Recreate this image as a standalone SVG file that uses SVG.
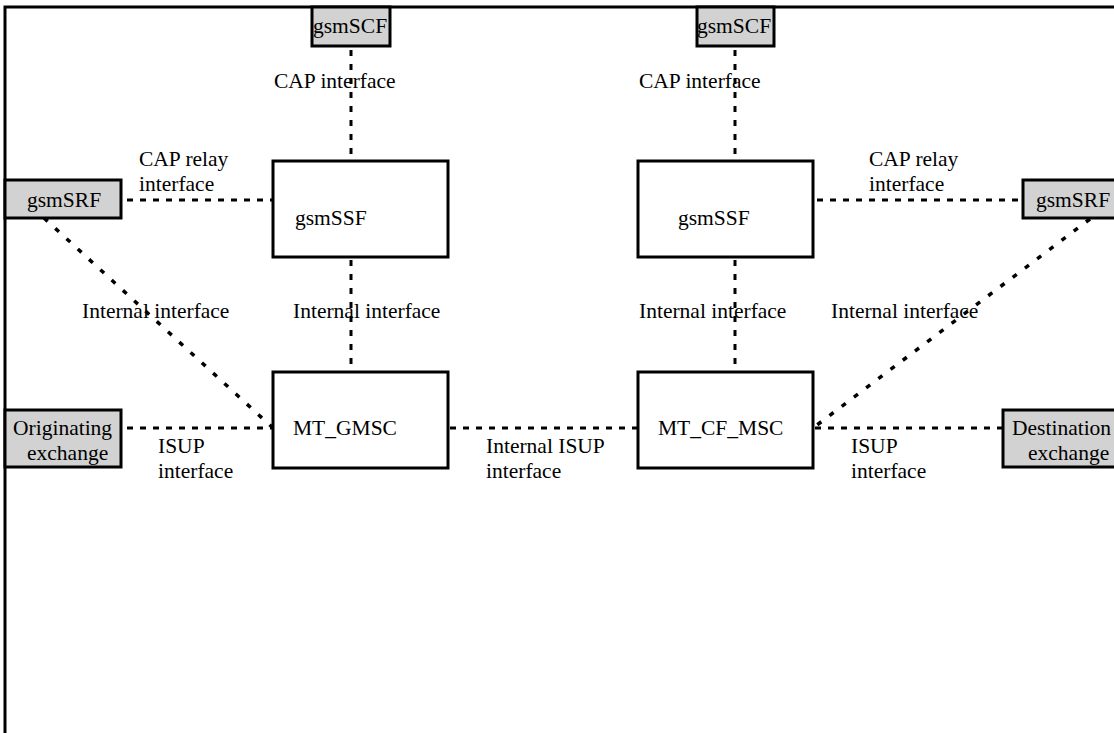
<svg xmlns="http://www.w3.org/2000/svg" width="1114" height="733" viewBox="0 0 1114 733">
<style>
text{font-family:"Liberation Serif","Times New Roman",serif;font-size:21.5px;fill:#000}
.box{fill:#fff;stroke:#000;stroke-width:3}
.grey{fill:#d2d2d2;stroke:#000;stroke-width:3}
.dash{fill:none;stroke:#000;stroke-width:3;stroke-dasharray:6 7}
.vdash{fill:none;stroke:#000;stroke-width:3;stroke-dasharray:6 8}
.dot{fill:none;stroke:#000;stroke-width:3.5;stroke-dasharray:5 10.3}
</style>
<rect x="0" y="0" width="1114" height="733" fill="#fff"/>
<rect x="5" y="7" width="1130" height="740" fill="none" stroke="#000" stroke-width="3"/>
<g id="connectors">
<line class="vdash" x1="351" y1="50" x2="351" y2="161"/>
<line class="vdash" x1="735" y1="50" x2="735" y2="161"/>
<line class="vdash" x1="351" y1="260" x2="351" y2="372"/>
<line class="vdash" x1="735" y1="260" x2="735" y2="372"/>
<line class="dash" x1="127" y1="200" x2="273" y2="200"/>
<line class="dash" x1="817" y1="200" x2="1023" y2="200"/>
<line class="dash" x1="127" y1="428" x2="273" y2="428"/>
<line class="dash" x1="450" y1="428" x2="638" y2="428"/>
<line class="dash" x1="815" y1="428" x2="1003" y2="428"/>
<line class="dot" x1="44" y1="218" x2="273" y2="428"/>
<line class="dot" x1="1090" y1="219" x2="813" y2="428"/>
</g>
<g id="gsmSCF1"><rect class="grey" x="312" y="7" width="78" height="39"/><text x="313" y="33">gsmSCF</text></g>
<g id="gsmSCF2"><rect class="grey" x="697" y="7" width="77" height="39"/><text x="697" y="33">gsmSCF</text></g>
<g id="gsmSSF1"><rect class="box" x="273" y="161" width="175" height="96"/><text x="295" y="225">gsmSSF</text></g>
<g id="gsmSSF2"><rect class="box" x="638" y="161" width="175" height="96"/><text x="678" y="225">gsmSSF</text></g>
<g id="gsmSRF1"><rect class="grey" x="5" y="180" width="116" height="38"/><text x="27" y="207">gsmSRF</text></g>
<g id="gsmSRF2"><rect class="grey" x="1023" y="180" width="100" height="38"/><text x="1036" y="207">gsmSRF</text></g>
<g id="MT_GMSC"><rect class="box" x="273" y="372" width="175" height="96"/><text x="293" y="435">MT_GMSC</text></g>
<g id="MT_CF_MSC"><rect class="box" x="638" y="372" width="175" height="96"/><text x="658" y="435">MT_CF_MSC</text></g>
<g id="orig"><rect class="grey" x="5" y="410" width="116" height="57"/><text x="13" y="435">Originating</text><text x="27" y="460">exchange</text></g>
<g id="dest"><rect class="grey" x="1003" y="410" width="120" height="57"/><text x="1012" y="435">Destination</text><text x="1028" y="460">exchange</text></g>
<g id="labels">
<text x="274" y="88">CAP interface</text>
<text x="639" y="88">CAP interface</text>
<text x="139" y="166">CAP relay</text><text x="139" y="191">interface</text>
<text x="869" y="166">CAP relay</text><text x="869" y="191">interface</text>
<text x="82" y="318">Internal interface</text>
<text x="293" y="318">Internal interface</text>
<text x="639" y="318">Internal interface</text>
<text x="831" y="318">Internal interface</text>
<text x="158" y="453">ISUP</text><text x="158" y="478">interface</text>
<text x="486" y="453">Internal ISUP</text><text x="486" y="478">interface</text>
<text x="851" y="453">ISUP</text><text x="851" y="478">interface</text>
</g>
</svg>
